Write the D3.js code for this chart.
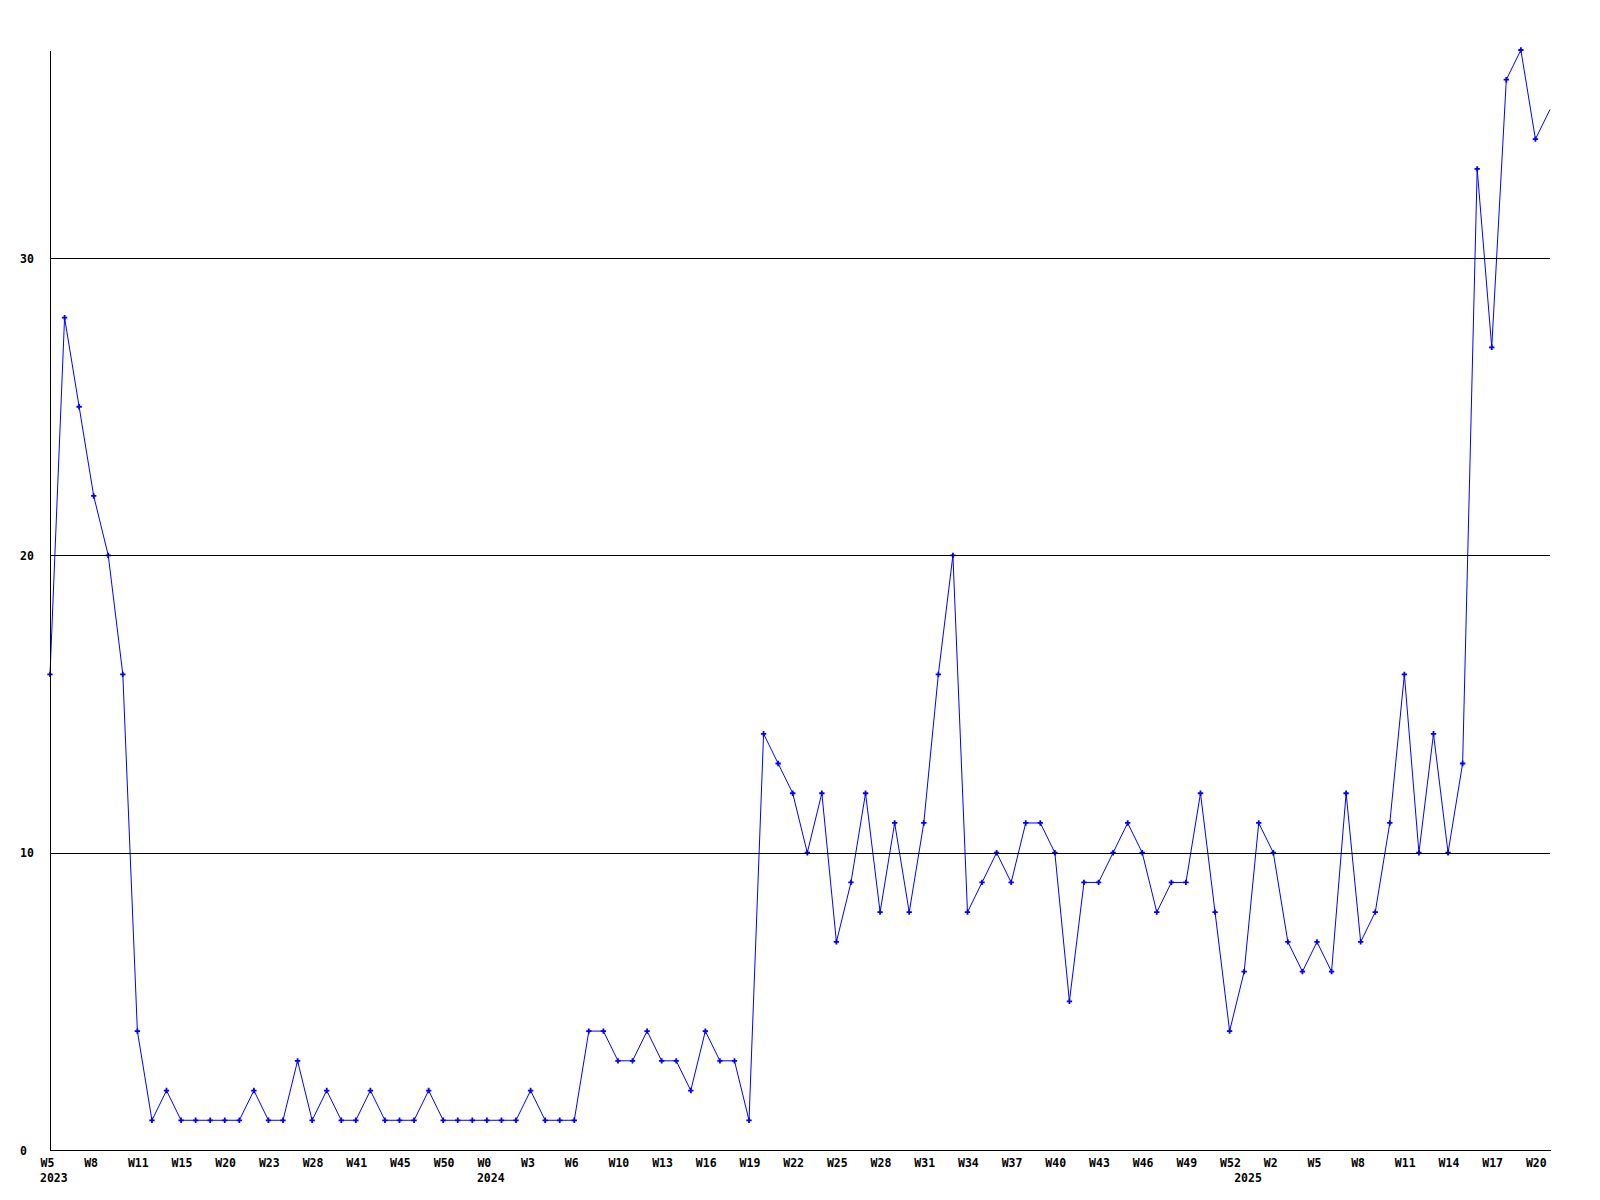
<!DOCTYPE html>
<html>
<head>
<meta charset="utf-8">
<script src="https://cdn.jsdelivr.net/npm/d3@7"></script>
<style>
  html, body { margin: 0; padding: 0; background: #ffffff; }
  svg { display: block; }
  text { font-family: "DejaVu Sans Mono", monospace; font-weight: bold; font-size: 11.5px; fill: #000; }
</style>
</head>
<body>
<svg id="chart" width="1600" height="1200"></svg>
<script>
// ---- data ----
const categories = [
  "2023-W5","2023-W6","2023-W7","2023-W8","2023-W9","2023-W10","2023-W11","2023-W12","2023-W13","2023-W15",
  "2023-W16","2023-W17","2023-W20","2023-W21","2023-W22","2023-W23","2023-W24","2023-W26","2023-W28","2023-W36",
  "2023-W38","2023-W41","2023-W42","2023-W43","2023-W45","2023-W47","2023-W48","2023-W50","2023-W51","2023-W52",
  "2024-W0","2024-W1","2024-W2","2024-W3","2024-W4","2024-W5","2024-W6","2024-W7","2024-W8","2024-W10",
  "2024-W11","2024-W12","2024-W13","2024-W14","2024-W15","2024-W16","2024-W17","2024-W18","2024-W19","2024-W20",
  "2024-W21","2024-W22","2024-W23","2024-W24","2024-W25","2024-W26","2024-W27","2024-W28","2024-W29","2024-W30",
  "2024-W31","2024-W32","2024-W33","2024-W34","2024-W35","2024-W36","2024-W37","2024-W38","2024-W39","2024-W40",
  "2024-W41","2024-W42","2024-W43","2024-W44","2024-W45","2024-W46","2024-W47","2024-W48","2024-W49","2024-W50",
  "2024-W51","2024-W52","2025-W0","2025-W1","2025-W2","2025-W3","2025-W4","2025-W5","2025-W6","2025-W7",
  "2025-W8","2025-W9","2025-W10","2025-W11","2025-W12","2025-W13","2025-W14","2025-W15","2025-W16","2025-W17",
  "2025-W18","2025-W19","2025-W20","2025-W21"
];
const values = [
  16,28,25,22,20,16,4,1,2,1,
  1,1,1,1,2,1,1,3,1,2,
  1,1,2,1,1,1,2,1,1,1,
  1,1,1,2,1,1,1,4,4,3,
  3,4,3,3,2,4,3,3,1,14,
  13,12,10,12,7,9,12,8,11,8,
  11,16,20,8,9,10,9,11,11,10,
  5,9,9,10,11,10,8,9,9,12,
  8,4,6,11,10,7,6,7,6,12,
  7,8,11,16,10,14,10,13,33,27,
  36,37,34,35
];
const yTicks = [0, 10, 20, 30];
const gridValues = [10, 20, 30];
const yMax = 37;

// ---- chart ----
const svg = d3.select("#chart");
const mLeft = 50, mRight = 1550, mTop = 50, mBottom = 1150;

const x = d3.scalePoint().domain(categories).range([mLeft, mRight]).padding(0);
const y = d3.scaleLinear().domain([0, yMax]).range([mBottom, mTop]);

const data = categories.map((c, i) => ({ c, v: values[i] }));

// line
const line = d3.line().x(d => x(d.c)).y(d => y(d.v));
svg.append("path")
  .datum(data)
  .attr("fill", "none")
  .attr("stroke", "#0000ff")
  .attr("stroke-width", 1)
  .attr("d", line);

// markers (series ends at the plot edge without a marker)
const sym = d3.symbol().type(d3.symbolCross).size(16);
svg.append("g").selectAll("path")
  .data(data.slice(0, data.length - 1))
  .join("path")
  .attr("transform", d => `translate(${x(d.c)},${y(d.v)})`)
  .attr("d", sym)
  .attr("fill", "#0000ff");

// gridlines (drawn over the data)
svg.append("g").selectAll("line")
  .data(gridValues)
  .join("line")
  .attr("x1", mLeft).attr("x2", mRight)
  .attr("y1", d => Math.round(y(d)) + 0.5)
  .attr("y2", d => Math.round(y(d)) + 0.5)
  .attr("stroke", "#000")
  .attr("stroke-width", 1)
  .attr("shape-rendering", "crispEdges");

// x axis
const tickCats = categories.filter((c, i) => i % 3 === 0);
const xAxis = d3.axisBottom(x)
  .tickValues(tickCats)
  .tickSize(0)
  .tickSizeOuter(0)
  .tickFormat(c => c.split("-")[1]);
const gx = svg.append("g").attr("transform", `translate(0,${mBottom})`).call(xAxis);
gx.select(".domain").attr("stroke", "#000").attr("shape-rendering", "crispEdges");
gx.selectAll(".tick text")
  .attr("text-anchor", "start")
  .attr("x", -10)
  .attr("y", 16.5)
  .attr("dy", null)
  .style("font-family", "DejaVu Sans Mono, monospace")
  .style("font-weight", "bold")
  .style("font-size", "11.5px");

// year labels under the first week of each year
const yearStarts = categories.filter((c, i) => i === 0 || c.split("-")[0] !== categories[i - 1].split("-")[0]);
svg.append("g").selectAll("text")
  .data(yearStarts)
  .join("text")
  .attr("x", d => x(d) - 10)
  .attr("y", mBottom + 31.5)
  .text(d => d.split("-")[0]);

// y axis
const yAxis = d3.axisLeft(y)
  .tickValues(yTicks)
  .tickSize(0)
  .tickSizeOuter(0)
  .tickFormat(d3.format("d"));
const gy = svg.append("g").attr("transform", `translate(${mLeft},0)`).call(yAxis);
gy.select(".domain").attr("stroke", "#000").attr("shape-rendering", "crispEdges");
gy.selectAll(".tick text")
  .attr("text-anchor", "start")
  .attr("x", -30)
  .attr("dy", "0.35em")
  .style("font-family", "DejaVu Sans Mono, monospace")
  .style("font-weight", "bold")
  .style("font-size", "11.5px");
</script>
</body>
</html>
